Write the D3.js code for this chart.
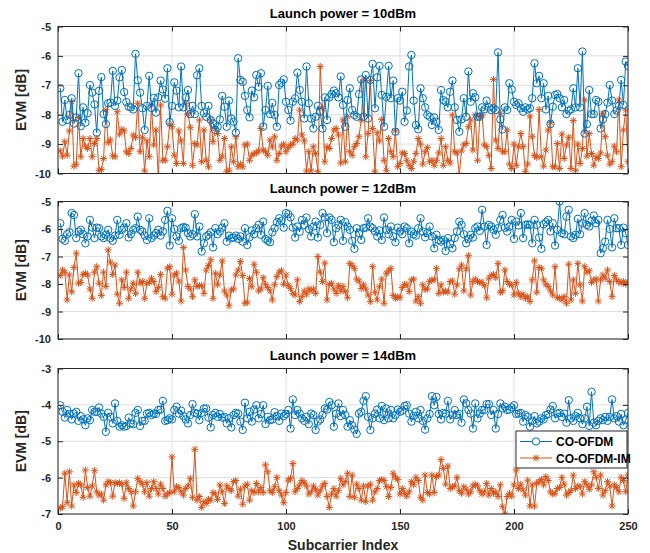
<!DOCTYPE html>
<html>
<head>
<meta charset="utf-8">
<script src="https://cdn.jsdelivr.net/npm/d3@7"></script>
<style>
body { margin: 0; background: #fff; }
svg { font-family: "Liberation Sans", Arial, sans-serif; font-weight: bold; }
</style>
</head>
<body>
<svg id="chart"></svg>
<script>
// EVM per subcarrier (dB)
var blue10 = [-7.10,-8.24,-7.50,-8.18,-8.01,-7.44,-8.30,-8.09,-6.59,-8.39,-7.75,-8.27,-7.95,-6.99,-7.25,-7.65,-8.61,-7.19,-6.72,-7.98,-8.32,-7.61,-7.59,-6.51,-7.70,-7.52,-6.73,-6.48,-7.23,-7.57,-7.73,-7.75,-7.82,-5.93,-6.83,-7.25,-7.78,-8.52,-7.70,-6.68,-7.77,-7.43,-7.93,-7.41,-6.84,-7.14,-7.45,-6.42,-8.25,-7.70,-6.90,-7.18,-7.75,-6.36,-7.75,-7.41,-7.16,-7.98,-7.70,-7.98,-6.66,-6.42,-7.70,
  -7.95,-8.07,-7.70,-8.18,-8.30,-8.52,-8.41,-8.16,-7.36,-7.73,-8.41,-7.52,-8.13,-8.24,-8.61,-6.08,-6.82,-6.88,-7.36,-7.84,-8.09,-7.18,-7.41,-6.65,-7.05,-6.59,-8.41,-7.84,-7.02,-7.98,-7.60,-8.01,-8.41,-6.99,-6.91,-6.80,-7.56,-7.84,-8.20,-7.56,-7.44,-6.57,-7.16,-7.56,-8.13,-6.36,-7.61,-8.13,-8.47,-8.07,-7.70,-7.90,-8.47,-7.41,-8.18,-7.41,-7.30,-7.18,-7.27,-7.41,-6.70,-7.67,
  -8.41,-7.50,-7.10,-7.84,-8.01,-8.07,-7.30,-6.80,-8.07,-6.65,-8.13,-6.82,-6.27,-7.78,-6.73,-6.34,-7.33,-8.41,-7.39,-6.34,-7.44,-6.84,-8.58,-7.44,-7.52,-7.22,-8.24,-7.86,-6.36,-5.97,-7.52,-8.35,-8.50,-7.10,-7.44,-7.75,-8.01,-8.07,-8.35,-8.09,-8.24,-8.52,-7.16,-7.50,-7.56,-7.75,-7.22,-6.84,-7.75,-8.18,-8.58,-8.16,-7.44,-8.07,-6.53,-7.56,-7.27,-7.41,-8.07,-8.07,-7.75,
  -7.82,-7.52,-7.75,-7.84,-7.78,-7.84,-5.88,-8.16,-8.50,-7.75,-7.84,-6.93,-7.14,-7.56,-7.67,-7.61,-7.78,-7.90,-7.75,-7.82,-7.78,-7.44,-6.25,-6.93,-6.68,-7.44,-6.93,-7.82,-7.36,-8.32,-7.73,-7.33,-7.30,-7.44,-7.75,-7.50,-7.98,-7.86,-7.82,-7.10,-7.75,-6.42,-7.75,-5.85,-8.64,-8.32,-7.16,-7.98,-7.98,-7.50,-7.56,-8.47,-8.16,-7.98,-7.59,-6.99,-7.52,-7.98,-7.86,-7.70,-6.82,-7.67,-6.19,-6.34];

var orange10 = [-9.23,-9.41,-8.92,-9.38,-8.55,-7.56,-9.75,-9.68,-8.09,-9.43,-8.81,-9.07,-9.15,-8.81,-9.43,-8.98,-8.81,-9.89,-9.86,-9.49,-7.84,-8.95,-8.86,-9.40,-9.43,-7.90,-8.66,-8.50,-8.55,-9.26,-9.32,-9.15,-8.69,-8.77,-7.61,-9.26,-8.77,-9.91,-8.89,-9.43,-7.67,-9.03,-8.52,-10.20,-7.67,-9.55,-9.55,-9.09,-8.32,-8.41,-9.38,-9.66,-8.55,-8.89,-9.66,-7.61,-7.98,-8.43,-9.72,-8.98,-9.03,-8.18,-9.60,
  -8.52,-9.55,-9.77,-8.18,-8.92,-8.47,-8.64,-9.55,-9.41,-8.81,-9.94,-9.89,-9.09,-9.60,-8.75,-9.77,-9.68,-9.77,-9.03,-9.00,-9.55,-9.38,-9.32,-9.30,-9.23,-8.47,-9.20,-9.26,-9.38,-8.86,-9.10,-8.75,-9.55,-9.32,-9.07,-9.00,-9.26,-9.11,-9.03,-9.00,-8.81,-8.86,-7.84,-8.69,-8.89,-9.91,-9.26,-9.91,-9.09,-9.32,-9.94,-6.36,-7.78,-9.60,-9.09,-9.15,-8.81,-8.52,-8.47,-8.69,-9.64,-8.18,
  -9.60,-8.07,-9.26,-9.38,-9.09,-8.98,-8.75,-8.18,-6.82,-9.43,-8.64,-6.84,-8.47,-9.94,-8.61,-8.89,-8.16,-9.55,-9.89,-8.81,-9.26,-9.43,-8.55,-9.77,-9.66,-9.30,-9.32,-9.55,-9.72,-9.83,-9.60,-9.32,-8.81,-9.00,-9.68,-9.26,-9.11,-9.60,-9.55,-9.72,-9.55,-9.30,-8.81,-9.72,-9.09,-9.55,-9.64,-8.01,-9.26,-9.30,-10.05,-9.23,-9.03,-8.98,-8.41,-8.18,-9.20,-8.01,-9.55,-8.07,-8.01,
  -9.03,-9.09,-9.38,-9.83,-6.80,-8.86,-9.15,-7.95,-9.26,-9.26,-8.52,-9.68,-9.83,-9.00,-9.72,-9.09,-8.64,-9.09,-9.94,-9.68,-8.05,-8.75,-9.38,-9.45,-7.82,-9.43,-9.75,-9.20,-8.52,-8.27,-9.77,-9.77,-8.98,-9.83,-8.66,-9.49,-9.03,-8.77,-9.83,-8.20,-9.89,-9.00,-9.66,-9.15,-7.50,-9.41,-8.64,-9.32,-9.72,-9.43,-9.49,-9.30,-7.95,-8.75,-9.38,-9.68,-9.60,-9.07,-9.26,-7.50,-9.77,-8.52,-7.84,-9.60];

var blue12 = [-5.79,-6.36,-6.43,-6.19,-6.12,-5.42,-5.49,-6.33,-6.09,-6.03,-6.19,-6.52,-6.27,-5.67,-5.95,-6.33,-5.95,-5.97,-6.27,-6.33,-6.21,-6.03,-6.33,-6.43,-6.24,-5.67,-6.21,-6.03,-5.95,-5.79,-6.31,-6.19,-6.03,-5.97,-5.55,-6.03,-6.09,-6.24,-6.40,-5.61,-6.33,-6.24,-6.15,-6.03,-6.24,-6.09,-5.67,-5.34,-6.60,-5.61,-6.00,-6.27,-6.43,-5.97,-5.93,-5.95,-6.15,-6.27,-6.19,-5.46,-6.27,-5.91,-6.82,
  -6.52,-6.27,-6.21,-6.12,-6.67,-5.97,-6.19,-6.09,-5.95,-5.79,-6.46,-6.24,-6.33,-6.31,-6.24,-6.36,-6.27,-6.46,-5.97,-6.58,-6.30,-6.05,-6.19,-5.97,-5.85,-6.21,-5.73,-6.36,-6.43,-6.48,-6.12,-5.97,-5.75,-5.61,-5.70,-5.95,-5.42,-5.46,-5.58,-5.95,-6.31,-5.91,-6.10,-5.67,-5.85,-5.58,-6.00,-6.27,-5.91,-5.73,-6.31,-5.85,-5.42,-5.58,-6.15,-5.58,-5.67,-6.48,-5.97,-5.85,-5.67,-6.43,
  -5.75,-5.91,-6.03,-6.43,-6.72,-5.97,-6.15,-6.40,-5.97,-5.95,-5.61,-5.91,-5.97,-6.09,-6.27,-6.05,-6.40,-5.58,-6.03,-6.19,-5.91,-6.27,-6.48,-5.95,-6.09,-6.19,-5.91,-5.97,-6.52,-6.09,-6.19,-6.24,-5.97,-5.61,-6.09,-6.30,-6.15,-5.91,-6.27,-6.70,-6.21,-6.40,-6.46,-6.40,-6.80,-6.33,-6.55,-6.70,-6.33,-6.09,-5.73,-5.85,-6.19,-6.52,-6.36,-6.21,-6.31,-5.97,-5.91,-6.07,-5.30,
  -5.91,-6.58,-5.85,-5.91,-6.03,-6.21,-5.97,-5.67,-5.49,-5.95,-6.09,-5.91,-5.67,-6.36,-5.73,-5.87,-5.42,-6.33,-5.85,-5.83,-5.85,-6.52,-5.67,-5.85,-6.31,-6.72,-5.83,-5.75,-5.67,-6.09,-5.79,-6.60,-6.03,-5.00,-6.15,-6.19,-5.55,-5.30,-6.27,-6.33,-6.21,-5.63,-6.19,-5.79,-5.42,-5.85,-5.91,-5.70,-5.51,-5.79,-5.67,-6.88,-6.70,-6.46,-5.67,-6.00,-6.67,-5.61,-5.97,-5.97,-6.58,-5.95,-6.15,-6.58];

var orange12 = [-7.69,-7.49,-7.57,-8.58,-7.67,-8.28,-7.40,-6.88,-7.97,-7.94,-7.65,-7.61,-7.67,-8.18,-8.52,-7.57,-7.37,-7.97,-8.42,-7.57,-8.09,-6.76,-7.21,-7.65,-7.31,-8.37,-8.70,-7.85,-8.13,-7.57,-8.52,-8.18,-7.97,-8.34,-7.57,-7.97,-7.91,-8.52,-7.97,-7.94,-7.79,-7.91,-8.28,-8.13,-7.65,-8.46,-8.52,-7.43,-7.37,-8.37,-7.67,-7.61,-7.89,-8.62,-6.67,-7.49,-8.09,-8.18,-8.46,-7.85,-8.09,-8.06,-8.06,
  -8.34,-7.49,-7.33,-7.12,-8.52,-7.61,-8.03,-7.67,-7.16,-8.25,-8.40,-8.79,-8.22,-8.18,-7.67,-7.49,-7.18,-7.69,-8.70,-8.66,-7.80,-8.10,-7.28,-7.57,-8.25,-8.18,-7.77,-8.01,-8.13,-8.25,-8.58,-8.03,-7.73,-7.57,-7.52,-8.01,-7.67,-8.06,-8.16,-8.34,-8.40,-7.85,-8.64,-8.46,-8.25,-8.37,-8.18,-8.25,-8.18,-8.34,-7.00,-7.57,-7.91,-7.24,-8.58,-8.01,-7.97,-8.18,-8.34,-8.06,-8.25,-8.09,
  -8.28,-8.50,-7.25,-7.33,-7.43,-7.82,-7.89,-8.16,-8.03,-8.18,-8.40,-8.64,-7.37,-8.30,-8.58,-8.10,-7.82,-8.70,-7.61,-7.52,-7.43,-8.42,-8.52,-8.46,-8.50,-8.13,-8.01,-8.03,-8.28,-7.85,-7.82,-8.62,-8.46,-8.70,-8.03,-8.20,-8.18,-7.91,-7.85,-7.85,-7.43,-8.34,-8.03,-8.30,-8.25,-8.30,-7.91,-7.89,-8.37,-8.03,-7.45,-7.31,-8.25,-7.45,-6.97,-8.40,-7.91,-7.82,-7.91,-7.94,-7.94,
  -8.06,-8.50,-7.79,-7.69,-7.65,-7.77,-7.25,-8.30,-8.25,-7.49,-7.91,-8.01,-8.03,-8.40,-7.94,-8.34,-8.46,-8.37,-8.52,-8.46,-8.64,-7.85,-7.16,-8.30,-7.40,-7.43,-7.85,-8.01,-8.09,-8.25,-8.40,-7.37,-8.50,-8.50,-8.58,-8.46,-8.70,-7.28,-8.58,-7.85,-8.34,-7.25,-8.03,-8.62,-7.37,-7.57,-7.52,-7.94,-7.85,-7.82,-8.62,-7.85,-7.67,-7.79,-7.49,-7.91,-8.46,-7.69,-7.85,-7.91,-7.97,-7.91,-8.01,-7.94];

var blue14 = [-4.01,-4.19,-4.35,-4.14,-4.25,-4.40,-4.24,-4.19,-4.44,-4.31,-4.40,-4.56,-4.37,-4.42,-4.14,-4.19,-4.19,-4.07,-4.24,-4.33,-4.74,-4.22,-4.33,-4.51,-3.96,-4.44,-4.60,-4.56,-4.60,-4.58,-4.35,-4.51,-4.53,-4.22,-4.14,-4.58,-4.44,-4.44,-4.24,-4.22,-4.28,-4.24,-4.25,-4.14,-4.13,-3.89,-4.44,-4.42,-4.37,-4.40,-4.14,-4.05,-4.24,-4.16,-4.31,-4.40,-4.51,-4.28,-3.98,-4.22,-4.24,-4.42,-4.22,-4.10,
  -4.10,-4.35,-4.62,-4.28,-4.22,-4.33,-4.25,-4.35,-4.33,-4.51,-4.37,-4.62,-4.28,-4.22,-4.24,-4.46,-4.69,-3.94,-4.37,-4.19,-4.46,-4.13,-4.01,-4.37,-4.25,-4.01,-4.53,-4.33,-4.42,-4.40,-4.20,-4.31,-4.44,-4.24,-4.31,-4.25,-4.14,-4.65,-3.85,-4.28,-4.14,-4.24,-4.37,-4.44,-4.33,-4.53,-4.24,-4.28,-4.69,-4.46,-4.40,-4.28,-4.10,-4.13,-3.92,-4.01,-4.60,-4.24,-3.96,-4.31,-4.14,
  -4.28,-4.60,-4.42,-4.56,-4.68,-4.80,-4.24,-4.19,-3.89,-3.76,-4.33,-4.69,-4.37,-4.24,-4.13,-4.37,-4.03,-4.42,-4.10,-4.37,-4.14,-4.37,-4.28,-4.13,-4.19,-4.16,-4.03,-4.01,-4.24,-4.46,-4.30,-4.19,-4.37,-4.14,-4.44,-4.68,-4.37,-4.25,-3.76,-4.01,-3.78,-4.25,-4.40,-4.22,-4.24,-3.89,-4.40,-4.28,-4.14,-4.28,-4.25,-4.49,-3.85,-3.96,-4.14,-4.24,-4.65,-3.96,-4.37,-4.24,-4.14,
  -4.14,-3.98,-3.98,-4.28,-4.14,-4.65,-4.25,-3.96,-4.10,-4.05,-4.14,-4.13,-4.07,-4.01,-4.25,-4.24,-4.22,-4.46,-4.28,-4.33,-4.60,-4.44,-4.31,-4.51,-4.46,-4.37,-4.40,-4.28,-4.25,-4.13,-4.03,-4.37,-4.24,-4.22,-4.33,-4.24,-4.49,-3.87,-4.37,-4.44,-4.31,-4.22,-4.37,-4.53,-4.37,-4.05,-4.58,-3.64,-4.49,-4.56,-4.44,-4.37,-4.42,-4.33,-4.44,-4.33,-3.85,-4.37,-4.31,-4.46,-4.25,-4.56,-4.42,-4.22];

var orange14 = [-6.84,-6.80,-5.88,-6.69,-5.84,-6.78,-6.20,-6.41,-6.16,-6.20,-6.54,-5.79,-6.27,-6.51,-6.23,-5.81,-6.39,-6.48,-6.45,-6.62,-6.20,-6.11,-6.14,-6.51,-6.14,-6.16,-6.14,-6.18,-6.57,-6.14,-6.30,-6.39,-6.78,-6.39,-6.02,-6.11,-6.18,-6.39,-6.14,-6.51,-6.30,-6.11,-6.30,-6.45,-6.18,-6.30,-6.51,-6.45,-6.41,-5.43,-6.39,-6.25,-6.27,-6.39,-6.48,-6.30,-6.23,-6.02,-6.54,-5.22,-6.62,-6.52,-6.82,-6.66,
  -6.71,-6.60,-6.62,-6.41,-6.45,-6.60,-6.20,-6.39,-6.71,-6.23,-6.30,-6.36,-6.11,-6.08,-6.51,-6.32,-6.73,-6.23,-6.18,-6.62,-6.36,-6.41,-6.16,-6.39,-6.27,-6.41,-5.65,-5.84,-6.36,-6.41,-6.25,-5.99,-6.36,-6.48,-6.69,-6.41,-6.07,-6.02,-5.61,-6.39,-6.30,-6.20,-6.08,-6.14,-6.23,-6.45,-6.39,-6.23,-6.32,-6.48,-6.36,-6.23,-6.16,-6.52,-6.82,-6.45,-6.30,-6.51,-6.36,-6.02,-6.20,
  -6.11,-5.88,-6.52,-5.93,-6.54,-6.18,-6.30,-6.62,-6.23,-6.66,-6.23,-6.18,-6.62,-6.39,-6.30,-6.08,-6.05,-6.08,-6.25,-6.52,-6.27,-5.88,-5.99,-6.05,-6.45,-6.30,-6.43,-6.51,-6.39,-6.11,-6.20,-5.99,-6.08,-6.54,-6.62,-5.93,-6.41,-6.45,-5.93,-6.41,-5.97,-5.93,-5.50,-5.75,-6.18,-5.68,-6.30,-6.25,-6.23,-5.99,-6.36,-6.43,-6.25,-6.32,-6.45,-6.39,-6.23,-6.18,-6.23,-6.36,-6.45,
  -6.39,-6.16,-6.48,-6.30,-6.43,-6.39,-6.52,-6.20,-6.80,-7.00,-6.52,-6.43,-6.51,-6.20,-5.79,-6.30,-6.18,-6.34,-6.48,-6.07,-6.78,-6.20,-6.78,-6.16,-6.11,-6.05,-6.20,-5.97,-6.08,-6.39,-6.45,-6.43,-6.30,-6.27,-5.99,-6.18,-6.48,-6.41,-6.36,-5.93,-6.30,-6.23,-6.25,-6.45,-6.11,-6.20,-6.32,-6.20,-5.84,-5.99,-6.30,-5.93,-6.48,-6.36,-6.11,-6.23,-6.78,-6.20,-6.27,-6.39,-5.99,-6.08,-6.39,-5.93];

var xTicks = [0, 50, 100, 150, 200, 250];
var yTicks10 = [-10, -9, -8, -7, -6, -5];
var yTicks12 = [-10, -9, -8, -7, -6, -5];
var yTicks14 = [-7, -6, -5, -4, -3];
var titles = ["Launch power = 10dBm", "Launch power = 12dBm", "Launch power = 14dBm"];
var seriesNames = ["CO-OFDM", "CO-OFDM-IM"];

var width = 650;
var height = 553;
var left = 58;
var right = 628;
var blueColor = "#0072BD";
var orangeColor = "#D95319";
var axisColor = "#262626";

var svg = d3.select("#chart")
      .attr("width", width)
      .attr("height", height);

var xScale = d3.scaleLinear()
      .domain([0, 250])
      .range([left, right]);

// one entry per subplot
var panels = [
      { title: titles[0], blue: blue10, orange: orange10, ticks: yTicks10, top: 26.5, bottom: 173.5 },
      { title: titles[1], blue: blue12, orange: orange12, ticks: yTicks12, top: 201.5, bottom: 339 },
      { title: titles[2], blue: blue14, orange: orange14, ticks: yTicks14, top: 368.5, bottom: 514 }
];

var star = "M-3.5,0H3.5M0,-3.5V3.5M-2.6,-2.6L2.6,2.6M-2.6,2.6L2.6,-2.6";

panels.forEach(function(p, k) {
      var yScale = d3.scaleLinear()
            .domain(d3.extent(p.ticks))
            .range([p.bottom, p.top]);
      var g = svg.append("g");

      svg.append("clipPath").attr("id", "clip" + k)
            .append("rect")
            .attr("x", left).attr("y", p.top)
            .attr("width", right - left).attr("height", p.bottom - p.top);

      g.append("rect")
            .attr("x", left).attr("y", p.top)
            .attr("width", right - left).attr("height", p.bottom - p.top)
            .attr("fill", "#fff");

      // grid
      g.selectAll(".vg").data(xTicks).enter().append("line")
            .attr("x1", d => xScale(d)).attr("x2", d => xScale(d))
            .attr("y1", p.top).attr("y2", p.bottom)
            .attr("stroke", "#dfdfdf").attr("stroke-width", 1);
      g.selectAll(".hg").data(p.ticks).enter().append("line")
            .attr("x1", left).attr("x2", right)
            .attr("y1", d => yScale(d)).attr("y2", d => yScale(d))
            .attr("stroke", "#dfdfdf").attr("stroke-width", 1);

      var plot = g.append("g").attr("clip-path", "url(#clip" + k + ")");
      var line = d3.line()
            .x((d, i) => xScale(i + 1))
            .y(d => yScale(d));

      plot.append("path").datum(p.orange)
            .attr("d", line)
            .attr("fill", "none").attr("stroke", orangeColor).attr("stroke-width", 1);
      plot.selectAll(".star").data(p.orange).enter().append("path")
            .attr("d", star)
            .attr("transform", (d, i) => "translate(" + xScale(i + 1) + "," + yScale(d) + ")")
            .attr("fill", "none").attr("stroke", orangeColor).attr("stroke-width", 1);

      plot.append("path").datum(p.blue)
            .attr("d", line)
            .attr("fill", "none").attr("stroke", blueColor).attr("stroke-width", 1);
      plot.selectAll(".circ").data(p.blue).enter().append("circle")
            .attr("cx", (d, i) => xScale(i + 1))
            .attr("cy", d => yScale(d))
            .attr("r", 3.7)
            .attr("fill", "none").attr("stroke", blueColor).attr("stroke-width", 1);

      // axes, ticks pointing inwards like MATLAB
      g.append("g")
            .attr("transform", "translate(" + left + ",0)")
            .call(d3.axisLeft(yScale).tickValues(p.ticks).tickSize(-5).tickPadding(7).tickFormat(d => String(d)));
      g.append("g")
            .attr("transform", "translate(" + right + ",0)")
            .call(d3.axisRight(yScale).tickValues(p.ticks).tickSize(-5).tickFormat(""));
      var xAxis = g.append("g")
            .attr("transform", "translate(0," + p.bottom + ")")
            .call(d3.axisBottom(xScale).tickValues(xTicks).tickSize(-5).tickPadding(8).tickFormat(d => String(d)));
      g.append("g")
            .attr("transform", "translate(0," + p.top + ")")
            .call(d3.axisTop(xScale).tickValues(xTicks).tickSize(-5).tickFormat(""));
      if (k < 2) xAxis.selectAll("text").remove();

      g.selectAll(".domain").remove();
      g.selectAll(".tick line").attr("stroke", axisColor);
      g.selectAll(".tick text")
            .attr("fill", axisColor)
            .style("font-family", "'Liberation Sans', Arial, sans-serif")
            .style("font-weight", "bold")
            .style("font-size", "11px");

      g.append("rect")
            .attr("x", left).attr("y", p.top)
            .attr("width", right - left).attr("height", p.bottom - p.top)
            .attr("fill", "none").attr("stroke", axisColor).attr("stroke-width", 1);

      svg.append("text")
            .attr("x", (left + right) / 2)
            .attr("y", p.top - 9)
            .attr("text-anchor", "middle")
            .style("font-size", "13px")
            .attr("fill", "#000")
            .text(p.title);

      svg.append("text")
            .attr("transform", "rotate(-90)")
            .attr("x", -(p.top + p.bottom) / 2)
            .attr("y", 26)
            .attr("text-anchor", "middle")
            .style("font-size", "14px")
            .attr("fill", axisColor)
            .text("EVM [dB]");
});

svg.append("text")
      .attr("x", (left + right) / 2)
      .attr("y", 550)
      .attr("text-anchor", "middle")
      .style("font-size", "14px")
      .attr("fill", axisColor)
      .text("Subcarrier Index");

// legend in the bottom panel
var legend = svg.append("g").attr("transform", "translate(516,431)");
legend.append("rect")
      .attr("width", 111).attr("height", 37)
      .attr("fill", "#fff").attr("stroke", axisColor).attr("stroke-width", 1);
var entries = [
      { name: seriesNames[0], color: blueColor, y: 10.5 },
      { name: seriesNames[1], color: orangeColor, y: 27 }
];
entries.forEach(function(e, i) {
      legend.append("line")
            .attr("x1", 4).attr("x2", 36).attr("y1", e.y).attr("y2", e.y)
            .attr("stroke", e.color).attr("stroke-width", 1);
      if (i === 0) {
            legend.append("circle").attr("cx", 20).attr("cy", e.y).attr("r", 3.7)
                  .attr("fill", "#fff").attr("stroke", e.color).attr("stroke-width", 1);
      } else {
            legend.append("path").attr("d", star)
                  .attr("transform", "translate(20," + e.y + ")")
                  .attr("fill", "none").attr("stroke", e.color).attr("stroke-width", 1);
      }
      legend.append("text")
            .attr("x", 40).attr("y", e.y + 4.5)
            .style("font-size", "12px")
            .attr("fill", "#000")
            .text(e.name);
});
</script>
</body>
</html>
